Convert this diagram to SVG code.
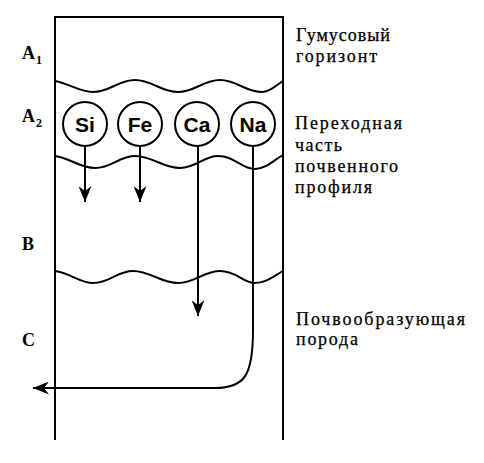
<svg xmlns="http://www.w3.org/2000/svg" width="484" height="463" viewBox="0 0 484 463">
<style>
.ln{fill:none;stroke:#000;stroke-width:2}
.el{fill:#fff;stroke:#000;stroke-width:2}
.et{font-family:"Liberation Sans",Arial,sans-serif;font-weight:bold;font-size:21px;text-anchor:middle;fill:#000}
.hz{font-family:"Liberation Serif","DejaVu Serif","Times New Roman",serif;font-weight:bold;font-size:18px;fill:#000}
.sub{font-size:12px}
.lb{font-family:"Liberation Serif","DejaVu Serif","Times New Roman",serif;font-size:18px;fill:#000;stroke:#000;stroke-width:0.25}
</style>
<defs>
<marker id="ah" viewBox="0 0 16 13" refX="16" refY="6.5" markerWidth="16" markerHeight="13" markerUnits="userSpaceOnUse" orient="auto">
<path d="M0,0 L16,6.5 L0,13 L5,6.5 z" fill="#000"/>
</marker>
</defs>
<g id="profile">
<path class="ln" d="M55,440 V17 H283 V440"/>
<path class="ln" d="M55,81 C70,84 80,92 93,92 C110,92 118,80 135,80 C152,80 161,92 178,92 C195,92 203,80 220,80 C237,80 245,92 262,92 C271,92 276,85 283,81"/>
<path class="ln" d="M55,156 C70,158 80,168 95,168 C112,168 119,156 135,156 C152,156 163,168 180,168 C197,168 203,156 218,156 C235,156 241,169 255,169 C266,169 274,160 283,155"/>
<path class="ln" d="M55,271 C70,273 80,283 93,283 C110,283 117,271 133,271 C150,271 161,283 178,283 C195,283 204,271 220,271 C237,271 243,283 255,283 C266,283 274,276 283,271"/>
</g>
<g id="connectors">
<path class="ln" d="M85,146 V202" marker-end="url(#ah)"/>
<path class="ln" d="M140,146 V202" marker-end="url(#ah)"/>
<path class="ln" d="M198,146 V316" marker-end="url(#ah)"/>
<path class="ln" d="M253,146 V330 C253,375 245,388 215,388 H33" marker-end="url(#ah)"/>
</g>
<g id="si"><circle class="el" cx="85" cy="124" r="22"/><text class="et" x="85" y="132">Si</text></g>
<g id="fe"><circle class="el" cx="140" cy="124" r="22"/><text class="et" x="140" y="132">Fe</text></g>
<g id="ca"><circle class="el" cx="197" cy="124" r="22"/><text class="et" x="197" y="132">Ca</text></g>
<g id="na"><circle class="el" cx="253" cy="124" r="22"/><text class="et" x="253" y="132">Na</text></g>
<g id="horizons">
<text class="hz" x="22" y="59">A<tspan class="sub" dx="1" dy="5">1</tspan></text>
<text class="hz" x="22" y="122">A<tspan class="sub" dx="1" dy="5">2</tspan></text>
<text class="hz" x="22" y="250">B</text>
<text class="hz" x="22" y="346">C</text>
</g>
<g id="labels">
<text class="lb" x="296" y="41" textLength="94" lengthAdjust="spacing">Гумусовый</text>
<text class="lb" x="296" y="62" textLength="81" lengthAdjust="spacing">горизонт</text>
<text class="lb" x="295" y="129" textLength="107" lengthAdjust="spacing">Переходная</text>
<text class="lb" x="295" y="151" textLength="47" lengthAdjust="spacing">часть</text>
<text class="lb" x="295" y="172" textLength="103" lengthAdjust="spacing">почвенного</text>
<text class="lb" x="295" y="193" textLength="77" lengthAdjust="spacing">профиля</text>
<text class="lb" x="296" y="325" textLength="169" lengthAdjust="spacing">Почвообразующая</text>
<text class="lb" x="296" y="345" textLength="62" lengthAdjust="spacing">порода</text>
</g>
</svg>
